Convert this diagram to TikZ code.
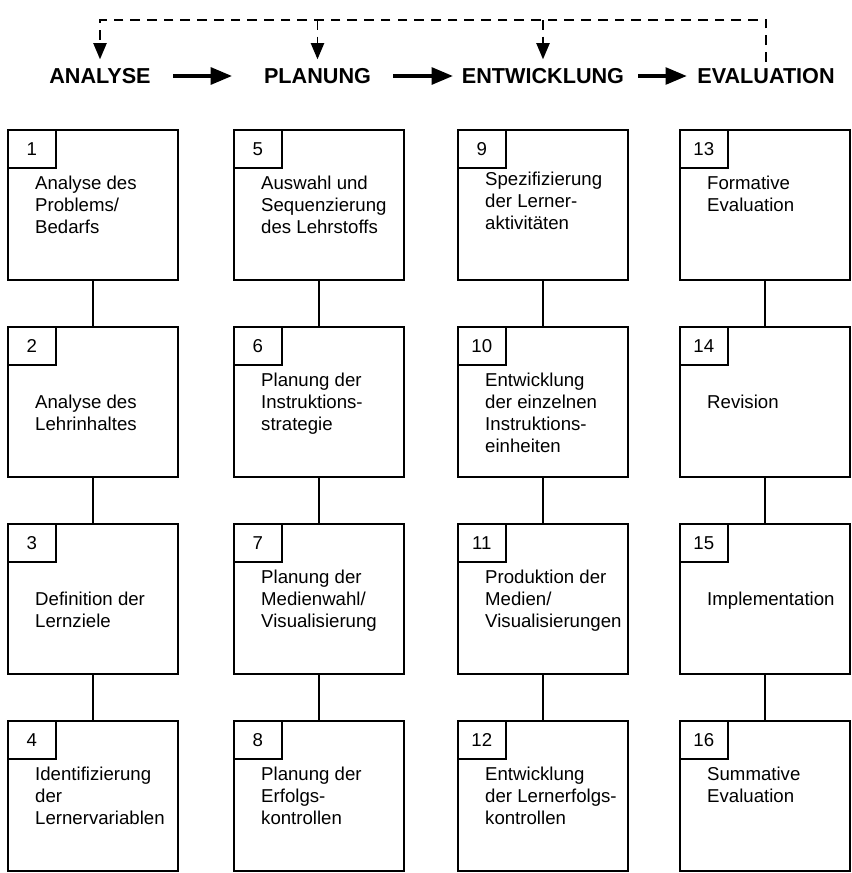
\documentclass[tikz,border=0pt]{standalone}
\usepackage{fontspec}
\setmainfont{Liberation Sans}
\usepackage{tikz}
\usetikzlibrary{arrows,positioning,calc}

\begin{document}
\begin{tikzpicture}[
  phase/.style={font=\fontsize{12.3}{14}\selectfont\bfseries, inner sep=0pt},
  stepbox/.style={draw, line width=1.3pt, minimum width=3.4cm, minimum height=3cm, inner sep=0pt},
  numbox/.style={draw, line width=1.1pt, minimum width=0.96cm, minimum height=0.76cm, inner sep=0pt, anchor=north west, font=\fontsize{10.6}{12.6}\selectfont},
  steptext/.style={align=left, inner sep=0pt, font=\fontsize{10.6}{12.6}\selectfont},
  link/.style={line width=1.1pt},
  flow/.style={-triangle 45, line width=1.8pt},
  feedback/.style={-triangle 45, line width=1.1pt, dash pattern=on 5.5pt off 4pt, shorten >=5pt}
]
\useasboundingbox (0,0) rectangle (17.02,-17.46);
\node[phase] (analyse) at (2.0,-1.52) {ANALYSE};
\node[phase] (planung) at (6.35,-1.52) {PLANUNG};
\node[phase] (entwicklung) at (10.86,-1.52) {ENTWICKLUNG};
\node[phase] (evaluation) at (15.32,-1.52) {EVALUATION};
\draw[flow, shorten <=0.44cm, shorten >=0.64cm] (analyse.east) -- (planung.west);
\draw[flow, shorten <=0.44cm, shorten >=0.18cm] (planung.east) -- (entwicklung.west);
\draw[flow, shorten <=0.28cm, shorten >=0.21cm] (entwicklung.east) -- (evaluation.west);
\coordinate (fb) at (0,-0.4);
\draw[feedback, shorten <=3.5pt] (evaluation.north) -- (evaluation.north |- fb) -| (analyse.north);
\draw[feedback] (planung.north |- fb) -- (planung.north);
\draw[feedback] (entwicklung.north |- fb) -- (entwicklung.north);

\node[stepbox] (s1) at (1.86,-4.1) {};
\node[stepbox] (s2) at (1.86,-8.04) {};
\node[stepbox] (s3) at (1.86,-11.98) {};
\node[stepbox] (s4) at (1.86,-15.92) {};
\node[stepbox] (s5) at (6.38,-4.1) {};
\node[stepbox] (s6) at (6.38,-8.04) {};
\node[stepbox] (s7) at (6.38,-11.98) {};
\node[stepbox] (s8) at (6.38,-15.92) {};
\node[stepbox] (s9) at (10.86,-4.1) {};
\node[stepbox] (s10) at (10.86,-8.04) {};
\node[stepbox] (s11) at (10.86,-11.98) {};
\node[stepbox] (s12) at (10.86,-15.92) {};
\node[stepbox] (s13) at (15.3,-4.1) {};
\node[stepbox] (s14) at (15.3,-8.04) {};
\node[stepbox] (s15) at (15.3,-11.98) {};
\node[stepbox] (s16) at (15.3,-15.92) {};

\node[numbox] (n1) at (s1.north west) {1};
\node[numbox] (n2) at (s2.north west) {2};
\node[numbox] (n3) at (s3.north west) {3};
\node[numbox] (n4) at (s4.north west) {4};
\node[numbox] (n5) at (s5.north west) {5};
\node[numbox] (n6) at (s6.north west) {6};
\node[numbox] (n7) at (s7.north west) {7};
\node[numbox] (n8) at (s8.north west) {8};
\node[numbox] (n9) at (s9.north west) {9};
\node[numbox] (n10) at (s10.north west) {10};
\node[numbox] (n11) at (s11.north west) {11};
\node[numbox] (n12) at (s12.north west) {12};
\node[numbox] (n13) at (s13.north west) {13};
\node[numbox] (n14) at (s14.north west) {14};
\node[numbox] (n15) at (s15.north west) {15};
\node[numbox] (n16) at (s16.north west) {16};

\node[steptext, below right=0.93cm and 0.56cm of s1.north west] (t1) {Analyse des\\Problems/\\Bedarfs};
\node[steptext, below right=1.37cm and 0.56cm of s2.north west] (t2) {Analyse des\\Lehrinhaltes};
\node[steptext, below right=1.37cm and 0.56cm of s3.north west] (t3) {Definition der\\Lernziele};
\node[steptext, below right=0.93cm and 0.56cm of s4.north west] (t4) {Identifizierung\\der\\Lernervariablen};
\node[steptext, below right=0.93cm and 0.56cm of s5.north west] (t5) {Auswahl und\\Sequenzierung\\des Lehrstoffs};
\node[steptext, below right=0.93cm and 0.56cm of s6.north west] (t6) {Planung der\\Instruktions-\\strategie};
\node[steptext, below right=0.93cm and 0.56cm of s7.north west] (t7) {Planung der\\Medienwahl/\\Visualisierung};
\node[steptext, below right=0.93cm and 0.56cm of s8.north west] (t8) {Planung der\\Erfolgs-\\kontrollen};
\node[steptext, below right=0.86cm and 0.56cm of s9.north west] (t9) {Spezifizierung\\der Lerner-\\aktivitäten};
\node[steptext, below right=0.93cm and 0.56cm of s10.north west] (t10) {Entwicklung\\der einzelnen\\Instruktions-\\einheiten};
\node[steptext, below right=0.93cm and 0.56cm of s11.north west] (t11) {Produktion der\\Medien/\\Visualisierungen};
\node[steptext, below right=0.93cm and 0.56cm of s12.north west] (t12) {Entwicklung\\der Lernerfolgs-\\kontrollen};
\node[steptext, below right=0.93cm and 0.56cm of s13.north west] (t13) {Formative\\Evaluation};
\node[steptext, below right=1.37cm and 0.56cm of s14.north west] (t14) {Revision};
\node[steptext, below right=1.37cm and 0.56cm of s15.north west] (t15) {Implementation};
\node[steptext, below right=0.93cm and 0.56cm of s16.north west] (t16) {Summative\\Evaluation};

\draw[link] (s1) -- (s2);
\draw[link] (s2) -- (s3);
\draw[link] (s3) -- (s4);
\draw[link] (s5) -- (s6);
\draw[link] (s6) -- (s7);
\draw[link] (s7) -- (s8);
\draw[link] (s9) -- (s10);
\draw[link] (s10) -- (s11);
\draw[link] (s11) -- (s12);
\draw[link] (s13) -- (s14);
\draw[link] (s14) -- (s15);
\draw[link] (s15) -- (s16);
\end{tikzpicture}
\end{document}
